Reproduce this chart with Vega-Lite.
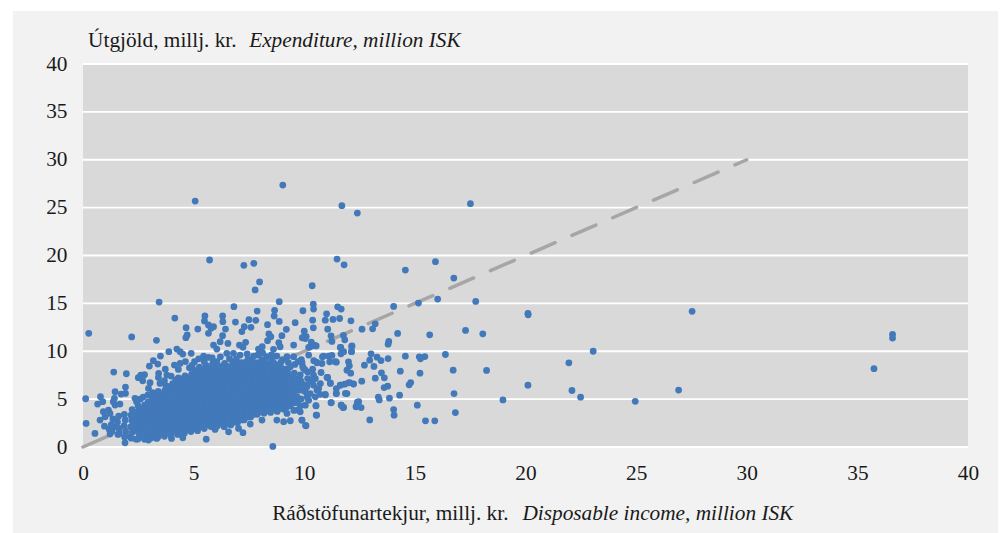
{"$schema":"https://vega.github.io/schema/vega-lite/v6.json","width":885,"height":383,"autosize":"none","padding":{"left":83,"top":64,"right":34,"bottom":86},"background":"white","view":{"stroke":null},
"config":{"axis":{"grid":false,"domain":false,"ticks":false,"labelFont":"Liberation Serif","labelFontSize":21.3,"labelColor":"#1a1a1a","labelFlush":false,"tickCount":8},"axisX":{"labelPadding":15,"labelAngle":0},"axisY":{"labelPadding":16}},
"data":{"values":[{"k":1}]},
"layer":[
{"mark":{"type":"rect","color":"#f2f2f2"},"encoding":{"x":{"datum":-3.167,"type":"quantitative","title":null,"scale":{"domain":[0,40],"nice":false}},"x2":{"datum":41.36},"y":{"datum":-8.98,"type":"quantitative","title":null,"scale":{"domain":[0,40],"nice":false}},"y2":{"datum":45.53}}},
{"mark":{"type":"rect","color":"#d9d9d9"},"encoding":{"x":{"datum":0,"type":"quantitative","title":null},"x2":{"datum":40},"y":{"datum":0,"type":"quantitative","title":null},"y2":{"datum":40}}},
{"data":{"values":[{"t":0},{"t":5},{"t":10},{"t":15},{"t":20},{"t":25},{"t":30},{"t":35},{"t":40}]},"mark":{"type":"rule","color":"#ffffff","strokeWidth":1.8},"encoding":{"x":{"datum":0,"type":"quantitative","title":null},"x2":{"datum":40},"y":{"field":"t","type":"quantitative","title":null,"axis":{"zindex":1}}}},
{"data":{"values":[{"x":0,"y":0},{"x":30,"y":30}]},"mark":{"type":"line","color":"#a6a6a6","strokeWidth":3.5,"strokeCap":"round","strokeDash":[26,18.4]},"encoding":{"x":{"field":"x","type":"quantitative","title":null,"axis":{"zindex":1}},"y":{"field":"y","type":"quantitative","title":null,"axis":{"zindex":1}}}},
{"data":{"values":[
{"x":11.7,"y":25.2},{"x":12.4,"y":24.43},{"x":17.51,"y":25.41},{"x":11.48,"y":19.63},{"x":11.8,"y":19.03},{"x":14.57,"y":18.48},{"x":15.93,"y":19.35},{"x":16.76,"y":17.64},{"x":10.36,"y":16.84},{"x":14.04,"y":14.68},{"x":15.16,"y":15.03},{"x":16.03,"y":15.45},{"x":17.75,"y":15.2},{"x":10.41,"y":14.92},{"x":10.42,"y":14.4},{"x":9.94,"y":14.23},{"x":11.51,"y":14.64},{"x":11.67,"y":14.4},{"x":11.01,"y":13.91},{"x":10.95,"y":13.25},{"x":11.3,"y":13.32},{"x":11.6,"y":13.42},{"x":10.38,"y":13.25},{"x":12.11,"y":13.18},{"x":10.41,"y":12.45},{"x":11.06,"y":12.31},{"x":13.21,"y":12.87},{"x":13.09,"y":12.34},{"x":12.61,"y":12.31},{"x":14.22,"y":11.86},{"x":15.67,"y":11.72},{"x":17.29,"y":12.17},{"x":18.07,"y":11.82},{"x":20.11,"y":13.95},{"x":20.12,"y":13.81},{"x":10.0,"y":12.1},{"x":11.21,"y":11.61},{"x":11.25,"y":11.02},{"x":11.77,"y":11.65},{"x":11.83,"y":11.19},{"x":13.82,"y":11.02},{"x":13.79,"y":10.74},{"x":11.65,"y":10.39},{"x":12.14,"y":10.5},{"x":12.13,"y":9.98},{"x":11.75,"y":9.94},{"x":11.66,"y":9.73},{"x":10.0,"y":11.5},{"x":10.05,"y":11.33},{"x":10.32,"y":10.95},{"x":10.47,"y":10.6},{"x":10.27,"y":10.46},{"x":10.2,"y":9.6},{"x":13.02,"y":9.73},{"x":13.29,"y":9.38},{"x":13.47,"y":9.03},{"x":13.79,"y":9.24},{"x":12.96,"y":9.07},{"x":12.72,"y":8.55},{"x":13.15,"y":8.41},{"x":14.57,"y":9.49},{"x":15.2,"y":9.42},{"x":15.25,"y":9.21},{"x":15.45,"y":9.45},{"x":16.38,"y":9.66},{"x":23.06,"y":10.0},{"x":21.96,"y":8.79},{"x":16.73,"y":8.02},{"x":18.24,"y":8.0},{"x":14.34,"y":7.92},{"x":15.23,"y":7.71},{"x":13.49,"y":7.75},{"x":13.62,"y":7.22},{"x":13.21,"y":7.19},{"x":14.81,"y":6.73},{"x":14.74,"y":6.49},{"x":13.77,"y":6.35},{"x":13.61,"y":6.21},{"x":12.6,"y":6.87},{"x":12.22,"y":6.6},{"x":12.05,"y":6.73},{"x":20.11,"y":6.46},{"x":16.77,"y":5.58},{"x":22.1,"y":5.9},{"x":22.49,"y":5.2},{"x":18.98,"y":4.92},{"x":14.31,"y":5.41},{"x":13.85,"y":5.1},{"x":13.35,"y":5.2},{"x":13.39,"y":4.92},{"x":15.11,"y":4.37},{"x":12.4,"y":4.68},{"x":12.35,"y":4.23},{"x":12.57,"y":4.12},{"x":11.67,"y":4.37},{"x":11.75,"y":4.12},{"x":11.22,"y":4.64},{"x":10.53,"y":4.3},{"x":10.56,"y":3.32},{"x":14.04,"y":3.91},{"x":14.06,"y":3.32},{"x":16.83,"y":3.6},{"x":12.96,"y":2.83},{"x":15.48,"y":2.73},{"x":15.9,"y":2.73},{"x":10.06,"y":2.24},{"x":9.9,"y":2.8},
{"x":10.82,"y":9.42},{"x":11.1,"y":9.5},{"x":11.25,"y":9.56},{"x":10.57,"y":8.79},{"x":10.8,"y":8.72},{"x":11.15,"y":8.9},{"x":11.45,"y":8.86},{"x":12.0,"y":8.9},{"x":12.04,"y":8.48},{"x":11.93,"y":8.02},{"x":12.1,"y":7.71},{"x":10.76,"y":7.78},{"x":10.38,"y":8.13},{"x":10.42,"y":7.5},{"x":9.97,"y":8.2},{"x":9.9,"y":8.8},{"x":11.06,"y":7.26},{"x":11.18,"y":6.7},{"x":10.15,"y":7.15},{"x":10.5,"y":7.15},{"x":11.63,"y":6.46},{"x":11.83,"y":6.56},{"x":11.45,"y":6.1},{"x":11.93,"y":5.58},{"x":11.45,"y":5.58},{"x":10.95,"y":5.44},{"x":10.65,"y":6.1},{"x":10.42,"y":6.46},{"x":10.12,"y":6.28},{"x":10.05,"y":5.76},{"x":10.27,"y":5.58},{"x":10.5,"y":5.24},{"x":10.05,"y":4.37},{"x":9.82,"y":3.67},{"x":10.2,"y":4.89},{"x":10.72,"y":5.5},{"x":9.9,"y":6.63},{"x":9.9,"y":5.93},
{"x":7.98,"y":17.24},{"x":7.78,"y":16.4},{"x":8.87,"y":15.18},{"x":3.44,"y":15.14},{"x":6.82,"y":14.66},{"x":7.87,"y":14.2},{"x":8.66,"y":14.27},{"x":5.51,"y":13.68},{"x":6.31,"y":13.68},{"x":4.15,"y":13.47},{"x":8.64,"y":13.68},{"x":5.49,"y":13.16},{"x":6.32,"y":13.09},{"x":7.5,"y":13.3},{"x":7.81,"y":13.23},{"x":8.87,"y":13.12},{"x":6.89,"y":13.05},{"x":9.59,"y":12.98},{"x":8.34,"y":12.78},{"x":5.9,"y":12.57},{"x":5.67,"y":12.74},{"x":5.79,"y":12.39},{"x":4.66,"y":12.46},{"x":5.19,"y":12.32},{"x":6.44,"y":12.32},{"x":7.29,"y":12.57},{"x":7.59,"y":12.5},{"x":7.18,"y":12.05},{"x":9.19,"y":12.29},{"x":5.67,"y":11.87},{"x":4.71,"y":11.7},{"x":4.65,"y":11.42},{"x":0.26,"y":11.87},{"x":2.2,"y":11.49},{"x":8.99,"y":11.63},{"x":8.4,"y":11.8},{"x":8.49,"y":11.52},{"x":6.31,"y":11.63},{"x":9.91,"y":11.41},{"x":10.09,"y":11.52},{"x":3.32,"y":11.14},{"x":8.34,"y":11.1},{"x":6.2,"y":11.0},{"x":6.55,"y":10.82},{"x":8.85,"y":10.9},{"x":5.9,"y":10.65},{"x":6.05,"y":10.23},{"x":7.07,"y":10.65},{"x":7.35,"y":10.93},{"x":7.23,"y":10.41},{"x":8.1,"y":10.47},{"x":7.93,"y":10.23},{"x":8.61,"y":10.2},{"x":8.91,"y":10.47},{"x":9.52,"y":10.65},{"x":10.42,"y":10.65},{"x":10.54,"y":10.55},{"x":10.2,"y":10.41},{"x":11.63,"y":10.4},{"x":12.16,"y":10.55},{"x":12.14,"y":9.95},{"x":11.78,"y":9.95},{"x":4.24,"y":10.23},{"x":3.88,"y":9.95},{"x":4.39,"y":9.95},{"x":4.51,"y":9.71},{"x":4.89,"y":9.78},{"x":3.5,"y":9.5},{"x":3.18,"y":9.01},{"x":3.38,"y":8.66},{"x":3.0,"y":8.45},{"x":5.45,"y":9.5},{"x":5.67,"y":9.36},{"x":6.05,"y":8.91},{"x":5.04,"y":8.91},{"x":6.4,"y":8.73},{"x":6.5,"y":9.78},{"x":6.8,"y":9.78},{"x":7.1,"y":9.6},{"x":7.71,"y":9.5},{"x":8.31,"y":9.43},{"x":8.76,"y":9.5},{"x":9.22,"y":9.43},{"x":9.52,"y":9.43},{"x":10.87,"y":9.5},{"x":10.57,"y":8.84},{"x":11.4,"y":8.91},{"x":4.13,"y":8.56},{"x":4.39,"y":8.73},{"x":4.31,"y":8.1},{"x":4.81,"y":8.28},{"x":9.93,"y":8.38},{"x":9.37,"y":8.38},{"x":10.05,"y":8.04},{"x":3.79,"y":7.51},{"x":3.98,"y":7.41},{"x":3.42,"y":7.69},{"x":3.41,"y":7.27},{"x":2.61,"y":7.51},{"x":2.5,"y":7.24},{"x":2.78,"y":7.55},{"x":2.7,"y":6.92},{"x":1.39,"y":7.83},{"x":1.96,"y":7.65},{"x":3.48,"y":6.64},{"x":3.03,"y":6.71},{"x":2.96,"y":6.12},{"x":3.15,"y":5.67},{"x":1.92,"y":6.26},{"x":1.45,"y":5.77},{"x":1.72,"y":5.53},{"x":1.92,"y":5.6},{"x":2.35,"y":5.08},{"x":2.58,"y":5.0},{"x":1.42,"y":5.08},{"x":0.79,"y":5.25},{"x":0.89,"y":4.73},{"x":0.66,"y":4.48},{"x":1.45,"y":4.38},{"x":1.67,"y":4.48},{"x":1.37,"y":4.73},{"x":0.12,"y":5.04},{"x":0.14,"y":2.46},{"x":0.54,"y":1.42},{"x":0.77,"y":2.81},{"x":0.92,"y":3.68},{"x":1.15,"y":3.86},{"x":1.22,"y":3.51},{"x":1.0,"y":3.16},{"x":0.97,"y":2.18},{"x":1.19,"y":1.84},{"x":1.22,"y":1.35},{"x":1.45,"y":2.11},{"x":1.64,"y":1.42},{"x":1.9,"y":0.44},{"x":2.13,"y":1.07},{"x":2.4,"y":0.82},{"x":2.96,"y":0.72},{"x":3.33,"y":0.9},{"x":4.0,"y":0.9},{"x":4.51,"y":0.96},{"x":5.57,"y":0.82},{"x":4.99,"y":1.94},{"x":5.97,"y":1.83},{"x":6.58,"y":1.59},{"x":7.03,"y":1.94},{"x":7.23,"y":1.49},{"x":7.56,"y":2.39},{"x":8.09,"y":2.81},{"x":8.58,"y":0.06},{"x":8.76,"y":2.81},{"x":9.07,"y":2.64},{"x":9.37,"y":2.74},{"x":9.89,"y":2.81},{"x":10.08,"y":2.22},{"x":10.54,"y":3.33},{"x":10.53,"y":4.31},{"x":9.7,"y":3.86},{"x":9.22,"y":3.51},{"x":11.21,"y":4.62},{"x":11.67,"y":4.38},{"x":11.78,"y":4.13},{"x":12.34,"y":4.2},{"x":12.46,"y":4.73},{"x":11.86,"y":5.6},{"x":11.45,"y":5.6},{"x":10.95,"y":5.49},{"x":11.18,"y":6.64},{"x":11.03,"y":7.27},{"x":11.63,"y":6.47},{"x":12.23,"y":6.57},{"x":12.0,"y":6.7},{"x":10.57,"y":5.95},{"x":10.12,"y":6.47},{"x":9.67,"y":5.25},
{"x":5.07,"y":25.69},{"x":9.03,"y":27.36},{"x":5.72,"y":19.53},{"x":7.27,"y":18.97},{"x":7.72,"y":19.18},{"x":27.53,"y":14.17},{"x":36.59,"y":11.77},{"x":36.59,"y":11.38},{"x":35.75,"y":8.18},{"x":26.92,"y":5.95},{"x":24.96,"y":4.77},
{"x":1.31,"y":1.62},{"x":1.28,"y":2.34},{"x":1.35,"y":2.93},{"x":1.58,"y":1.31},{"x":1.63,"y":1.94},{"x":1.56,"y":2.62},{"x":1.61,"y":3.22},{"x":1.88,"y":1.04},{"x":1.93,"y":1.63},{"x":1.86,"y":2.24},{"x":1.91,"y":2.83},{"x":1.87,"y":3.41},{"x":2.18,"y":0.92},{"x":2.23,"y":1.53},{"x":2.16,"y":2.11},{"x":2.21,"y":2.74},{"x":2.17,"y":3.32},{"x":2.22,"y":3.91},{"x":2.48,"y":0.83},{"x":2.53,"y":1.41},{"x":2.46,"y":2.02},{"x":2.51,"y":2.63},{"x":2.47,"y":3.24},{"x":2.52,"y":3.82},{"x":2.49,"y":4.31},{"x":2.78,"y":0.81},{"x":2.83,"y":1.33},{"x":2.76,"y":1.92},{"x":2.81,"y":2.54},{"x":2.77,"y":3.13},{"x":2.82,"y":3.72},{"x":2.79,"y":4.41},{"x":3.08,"y":0.93},{"x":3.13,"y":1.52},{"x":3.06,"y":2.13},{"x":3.11,"y":2.72},{"x":3.07,"y":3.33},{"x":3.12,"y":3.94},{"x":3.09,"y":4.52},{"x":3.14,"y":5.03},{"x":3.38,"y":1.03},{"x":3.43,"y":1.62},{"x":3.36,"y":2.21},{"x":3.41,"y":2.83},{"x":3.37,"y":3.42},{"x":3.42,"y":4.01},{"x":3.39,"y":4.63},{"x":3.44,"y":5.22},{"x":3.4,"y":5.81},{"x":3.68,"y":1.12},{"x":3.73,"y":1.71},{"x":3.66,"y":2.33},{"x":3.71,"y":2.92},{"x":3.67,"y":3.51},{"x":3.72,"y":4.12},{"x":3.69,"y":4.73},{"x":3.74,"y":5.31},{"x":3.7,"y":5.92},{"x":3.75,"y":6.42},{"x":3.98,"y":1.23},{"x":4.03,"y":1.83},{"x":3.96,"y":2.42},{"x":4.01,"y":3.02},{"x":3.97,"y":3.61},{"x":4.02,"y":4.21},{"x":3.99,"y":4.82},{"x":4.04,"y":5.41},{"x":4.0,"y":6.02},{"x":4.05,"y":6.63},{"x":4.28,"y":1.31},{"x":4.33,"y":1.91},{"x":4.26,"y":2.52},{"x":4.31,"y":3.12},{"x":4.27,"y":3.73},{"x":4.32,"y":4.33},{"x":4.29,"y":4.92},{"x":4.34,"y":5.53},{"x":4.3,"y":6.11},{"x":4.35,"y":6.72},{"x":4.31,"y":7.21},{"x":4.58,"y":1.44},{"x":4.63,"y":2.03},{"x":4.56,"y":2.62},{"x":4.61,"y":3.23},{"x":4.57,"y":3.82},{"x":4.62,"y":4.43},{"x":4.59,"y":5.02},{"x":4.64,"y":5.63},{"x":4.6,"y":6.22},{"x":4.65,"y":6.83},{"x":4.61,"y":7.42},{"x":4.88,"y":1.62},{"x":4.93,"y":2.21},{"x":4.86,"y":2.83},{"x":4.91,"y":3.42},{"x":4.87,"y":4.01},{"x":4.92,"y":4.62},{"x":4.89,"y":5.21},{"x":4.94,"y":5.82},{"x":4.9,"y":6.41},{"x":4.95,"y":7.03},{"x":4.91,"y":7.62},{"x":5.18,"y":1.71},{"x":5.23,"y":2.32},{"x":5.16,"y":2.91},{"x":5.21,"y":3.53},{"x":5.17,"y":4.12},{"x":5.22,"y":4.73},{"x":5.19,"y":5.31},{"x":5.24,"y":5.92},{"x":5.2,"y":6.52},{"x":5.25,"y":7.13},{"x":5.21,"y":7.72},{"x":5.26,"y":8.33},{"x":5.48,"y":1.92},{"x":5.53,"y":2.51},{"x":5.46,"y":3.12},{"x":5.51,"y":3.72},{"x":5.47,"y":4.31},{"x":5.52,"y":4.92},{"x":5.49,"y":5.52},{"x":5.54,"y":6.11},{"x":5.5,"y":6.73},{"x":5.55,"y":7.32},{"x":5.51,"y":7.91},{"x":5.56,"y":8.52},{"x":5.78,"y":2.13},{"x":5.83,"y":2.72},{"x":5.76,"y":3.31},{"x":5.81,"y":3.92},{"x":5.77,"y":4.53},{"x":5.82,"y":5.12},{"x":5.79,"y":5.71},{"x":5.84,"y":6.32},{"x":5.8,"y":6.91},{"x":5.85,"y":7.52},{"x":5.81,"y":8.13},{"x":5.86,"y":8.71},{"x":6.08,"y":2.22},{"x":6.13,"y":2.83},{"x":6.06,"y":3.42},{"x":6.11,"y":4.03},{"x":6.07,"y":4.62},{"x":6.12,"y":5.21},{"x":6.09,"y":5.83},{"x":6.14,"y":6.42},{"x":6.1,"y":7.01},{"x":6.15,"y":7.62},{"x":6.11,"y":8.21},{"x":6.38,"y":2.12},{"x":6.43,"y":2.71},{"x":6.36,"y":3.33},{"x":6.41,"y":3.92},{"x":6.37,"y":4.51},{"x":6.42,"y":5.12},{"x":6.39,"y":5.73},{"x":6.44,"y":6.31},{"x":6.4,"y":6.92},{"x":6.45,"y":7.53},{"x":6.41,"y":8.12},{"x":6.68,"y":2.31},{"x":6.73,"y":2.92},{"x":6.66,"y":3.52},{"x":6.71,"y":4.13},{"x":6.67,"y":4.72},{"x":6.72,"y":5.31},{"x":6.69,"y":5.93},{"x":6.74,"y":6.52},{"x":6.7,"y":7.11},{"x":6.75,"y":7.72},{"x":6.71,"y":8.31},{"x":6.76,"y":8.92},{"x":6.98,"y":2.52},{"x":7.03,"y":3.11},{"x":6.96,"y":3.72},{"x":7.01,"y":4.31},{"x":6.97,"y":4.92},{"x":7.02,"y":5.53},{"x":6.99,"y":6.12},{"x":7.04,"y":6.71},{"x":7.0,"y":7.32},{"x":7.05,"y":7.91},{"x":7.01,"y":8.52},{"x":7.28,"y":2.83},{"x":7.33,"y":3.42},{"x":7.26,"y":4.01},{"x":7.31,"y":4.62},{"x":7.27,"y":5.21},{"x":7.32,"y":5.82},{"x":7.29,"y":6.41},{"x":7.34,"y":7.02},{"x":7.3,"y":7.61},{"x":7.35,"y":8.22},{"x":7.31,"y":8.81},{"x":7.58,"y":3.13},{"x":7.63,"y":3.72},{"x":7.56,"y":4.33},{"x":7.61,"y":4.91},{"x":7.57,"y":5.52},{"x":7.62,"y":6.13},{"x":7.59,"y":6.72},{"x":7.64,"y":7.31},{"x":7.6,"y":7.92},{"x":7.65,"y":8.53},{"x":7.61,"y":9.12},{"x":7.88,"y":3.42},{"x":7.93,"y":4.03},{"x":7.86,"y":4.62},{"x":7.91,"y":5.21},{"x":7.87,"y":5.83},{"x":7.92,"y":6.42},{"x":7.89,"y":7.01},{"x":7.94,"y":7.62},{"x":7.9,"y":8.21},{"x":7.95,"y":8.82},{"x":8.18,"y":3.53},{"x":8.23,"y":4.12},{"x":8.16,"y":4.71},{"x":8.21,"y":5.32},{"x":8.17,"y":5.91},{"x":8.22,"y":6.52},{"x":8.19,"y":7.13},{"x":8.24,"y":7.72},{"x":8.2,"y":8.31},{"x":8.25,"y":8.92},{"x":8.48,"y":3.61},{"x":8.53,"y":4.22},{"x":8.46,"y":4.83},{"x":8.51,"y":5.42},{"x":8.47,"y":6.01},{"x":8.52,"y":6.62},{"x":8.49,"y":7.21},{"x":8.54,"y":7.82},{"x":8.5,"y":8.41},{"x":8.55,"y":9.02},{"x":8.78,"y":3.72},{"x":8.83,"y":4.31},{"x":8.76,"y":4.92},{"x":8.81,"y":5.53},{"x":8.77,"y":6.12},{"x":8.82,"y":6.71},{"x":8.79,"y":7.32},{"x":8.84,"y":7.91},{"x":8.8,"y":8.52},{"x":9.08,"y":3.93},{"x":9.13,"y":4.52},{"x":9.06,"y":5.11},{"x":9.11,"y":5.72},{"x":9.07,"y":6.31},{"x":9.12,"y":6.92},{"x":9.09,"y":7.51},{"x":9.14,"y":8.12},{"x":9.38,"y":4.31},{"x":9.43,"y":4.92},{"x":9.36,"y":5.51},{"x":9.41,"y":6.12},{"x":9.37,"y":6.71},{"x":9.42,"y":7.32},{"x":9.68,"y":4.62},{"x":9.73,"y":5.93},{"x":9.66,"y":6.52},{"x":9.71,"y":7.11},
{"x":2.33,"y":1.73},{"x":2.35,"y":2.41},{"x":2.31,"y":3.02},{"x":2.36,"y":3.61},{"x":2.63,"y":1.12},{"x":2.66,"y":1.72},{"x":2.61,"y":2.33},{"x":2.64,"y":2.91},{"x":2.62,"y":3.52},{"x":2.67,"y":4.03},{"x":2.93,"y":1.11},{"x":2.96,"y":1.62},{"x":2.91,"y":2.23},{"x":2.94,"y":2.82},{"x":2.92,"y":3.43},{"x":2.97,"y":4.02},{"x":2.95,"y":4.71},{"x":3.23,"y":1.21},{"x":3.26,"y":1.83},{"x":3.21,"y":2.42},{"x":3.24,"y":3.03},{"x":3.22,"y":3.62},{"x":3.27,"y":4.23},{"x":3.25,"y":4.81},{"x":3.28,"y":5.42},{"x":3.53,"y":1.32},{"x":3.56,"y":1.93},{"x":3.51,"y":2.52},{"x":3.54,"y":3.13},{"x":3.52,"y":3.72},{"x":3.57,"y":4.33},{"x":3.55,"y":4.92},{"x":3.58,"y":5.53},{"x":3.83,"y":1.51},{"x":3.86,"y":2.12},{"x":3.81,"y":2.71},{"x":3.84,"y":3.32},{"x":3.82,"y":3.91},{"x":3.87,"y":4.52},{"x":3.85,"y":5.11},{"x":3.88,"y":5.72},{"x":3.84,"y":6.31},{"x":4.13,"y":1.62},{"x":4.16,"y":2.22},{"x":4.11,"y":2.83},{"x":4.14,"y":3.42},{"x":4.12,"y":4.03},{"x":4.17,"y":4.62},{"x":4.15,"y":5.21},{"x":4.18,"y":5.82},{"x":4.14,"y":6.43},{"x":4.19,"y":7.02},{"x":4.43,"y":1.73},{"x":4.46,"y":2.32},{"x":4.41,"y":2.93},{"x":4.44,"y":3.52},{"x":4.42,"y":4.13},{"x":4.47,"y":4.72},{"x":4.45,"y":5.31},{"x":4.48,"y":5.92},{"x":4.44,"y":6.53},{"x":4.49,"y":7.12},{"x":4.73,"y":1.81},{"x":4.76,"y":2.42},{"x":4.71,"y":3.03},{"x":4.74,"y":3.62},{"x":4.72,"y":4.21},{"x":4.77,"y":4.82},{"x":4.75,"y":5.43},{"x":4.78,"y":6.02},{"x":4.74,"y":6.61},{"x":4.79,"y":7.22},{"x":5.03,"y":2.03},{"x":5.06,"y":2.62},{"x":5.01,"y":3.21},{"x":5.04,"y":3.82},{"x":5.02,"y":4.43},{"x":5.07,"y":5.02},{"x":5.05,"y":5.61},{"x":5.08,"y":6.22},{"x":5.04,"y":6.83},{"x":5.09,"y":7.42},{"x":5.05,"y":8.01},{"x":5.33,"y":2.12},{"x":5.36,"y":2.73},{"x":5.31,"y":3.32},{"x":5.34,"y":3.91},{"x":5.32,"y":4.52},{"x":5.37,"y":5.13},{"x":5.35,"y":5.72},{"x":5.38,"y":6.31},{"x":5.34,"y":6.92},{"x":5.39,"y":7.53},{"x":5.35,"y":8.12},{"x":5.63,"y":2.33},{"x":5.66,"y":2.92},{"x":5.61,"y":3.51},{"x":5.64,"y":4.12},{"x":5.62,"y":4.73},{"x":5.67,"y":5.32},{"x":5.65,"y":5.91},{"x":5.68,"y":6.52},{"x":5.64,"y":7.13},{"x":5.69,"y":7.72},{"x":5.65,"y":8.31},{"x":5.93,"y":2.52},{"x":5.96,"y":3.13},{"x":5.91,"y":3.72},{"x":5.94,"y":4.31},{"x":5.92,"y":4.92},{"x":5.97,"y":5.53},{"x":5.95,"y":6.12},{"x":5.98,"y":6.71},{"x":5.94,"y":7.32},{"x":5.99,"y":7.91},{"x":5.95,"y":8.43},{"x":6.23,"y":2.51},{"x":6.26,"y":3.12},{"x":6.21,"y":3.73},{"x":6.24,"y":4.32},{"x":6.22,"y":4.91},{"x":6.27,"y":5.52},{"x":6.25,"y":6.13},{"x":6.28,"y":6.72},{"x":6.24,"y":7.31},{"x":6.29,"y":7.92},{"x":6.25,"y":8.42},{"x":6.53,"y":2.42},{"x":6.56,"y":3.03},{"x":6.51,"y":3.62},{"x":6.54,"y":4.21},{"x":6.52,"y":4.82},{"x":6.57,"y":5.43},{"x":6.55,"y":6.02},{"x":6.58,"y":6.61},{"x":6.54,"y":7.22},{"x":6.59,"y":7.83},{"x":6.55,"y":8.41},{"x":6.83,"y":2.61},{"x":6.86,"y":3.22},{"x":6.81,"y":3.83},{"x":6.84,"y":4.42},{"x":6.82,"y":5.01},{"x":6.87,"y":5.62},{"x":6.85,"y":6.23},{"x":6.88,"y":6.82},{"x":6.84,"y":7.41},{"x":6.89,"y":8.02},{"x":6.85,"y":8.63},{"x":7.13,"y":2.83},{"x":7.16,"y":3.42},{"x":7.11,"y":4.01},{"x":7.14,"y":4.62},{"x":7.12,"y":5.23},{"x":7.17,"y":5.82},{"x":7.15,"y":6.41},{"x":7.18,"y":7.02},{"x":7.14,"y":7.63},{"x":7.19,"y":8.22},{"x":7.15,"y":8.81},{"x":7.43,"y":3.12},{"x":7.46,"y":3.73},{"x":7.41,"y":4.32},{"x":7.44,"y":4.91},{"x":7.42,"y":5.52},{"x":7.47,"y":6.13},{"x":7.45,"y":6.72},{"x":7.48,"y":7.31},{"x":7.44,"y":7.92},{"x":7.49,"y":8.53},{"x":7.45,"y":9.12},{"x":7.73,"y":3.42},{"x":7.76,"y":4.01},{"x":7.71,"y":4.62},{"x":7.74,"y":5.23},{"x":7.72,"y":5.82},{"x":7.77,"y":6.41},{"x":7.75,"y":7.02},{"x":7.78,"y":7.63},{"x":7.74,"y":8.22},{"x":7.79,"y":8.81},{"x":8.03,"y":3.73},{"x":8.06,"y":4.32},{"x":8.01,"y":4.91},{"x":8.04,"y":5.52},{"x":8.02,"y":6.13},{"x":8.07,"y":6.72},{"x":8.05,"y":7.31},{"x":8.08,"y":7.92},{"x":8.04,"y":8.53},{"x":8.09,"y":9.12},{"x":8.33,"y":3.81},{"x":8.36,"y":4.42},{"x":8.31,"y":5.03},{"x":8.34,"y":5.62},{"x":8.32,"y":6.21},{"x":8.37,"y":6.82},{"x":8.35,"y":7.43},{"x":8.38,"y":8.02},{"x":8.34,"y":8.61},{"x":8.63,"y":3.92},{"x":8.66,"y":4.53},{"x":8.61,"y":5.12},{"x":8.64,"y":5.71},{"x":8.62,"y":6.32},{"x":8.67,"y":6.93},{"x":8.65,"y":7.52},{"x":8.68,"y":8.11},{"x":8.64,"y":8.72},{"x":8.93,"y":4.03},{"x":8.96,"y":4.62},{"x":8.91,"y":5.21},{"x":8.94,"y":5.82},{"x":8.92,"y":6.43},{"x":8.97,"y":7.02},{"x":8.95,"y":7.61},{"x":8.98,"y":8.22},{"x":8.94,"y":8.83},{"x":9.23,"y":4.21},{"x":9.26,"y":4.82},{"x":9.21,"y":5.43},{"x":9.24,"y":6.02},{"x":9.22,"y":6.61},{"x":9.27,"y":7.22},{"x":9.25,"y":7.83},{"x":9.28,"y":8.82},{"x":9.53,"y":3.82},{"x":9.56,"y":4.62},{"x":9.51,"y":5.23},{"x":9.54,"y":5.81},{"x":9.52,"y":6.42},{"x":9.57,"y":7.03},{"x":9.55,"y":7.72},{"x":9.58,"y":8.62},{"x":9.83,"y":4.31},{"x":9.86,"y":5.02},{"x":9.81,"y":6.21},{"x":9.84,"y":6.92},{"x":9.82,"y":7.53},{"x":9.87,"y":9.12},{"x":10.13,"y":5.21},{"x":10.16,"y":7.82},{"x":10.33,"y":6.92},{"x":10.73,"y":6.62},{"x":10.43,"y":9.02},{"x":4.63,"y":8.92},{"x":4.93,"y":8.52},{"x":5.23,"y":9.21},{"x":5.48,"y":8.91},{"x":5.84,"y":9.31},{"x":6.21,"y":9.42},{"x":6.62,"y":9.21},{"x":6.93,"y":9.21},{"x":7.42,"y":9.72},{"x":7.91,"y":9.61},{"x":8.12,"y":9.82},{"x":8.52,"y":9.62},{"x":9.02,"y":9.12},{"x":9.72,"y":8.92},{"x":3.68,"y":6.93},{"x":3.72,"y":8.12},{"x":2.42,"y":4.72},{"x":2.72,"y":5.22},{"x":2.93,"y":5.42}
]},"mark":{"type":"circle","color":"#4279ba","opacity":1,"size":46},"encoding":{"x":{"field":"x","type":"quantitative","title":null,"axis":{"zindex":1}},"y":{"field":"y","type":"quantitative","title":null,"axis":{"zindex":1}}}},
{"mark":{"type":"text","font":"Liberation Serif","fontSize":21.3,"color":"#1a1a1a","align":"left","baseline":"alphabetic"},"encoding":{"x":{"datum":0.23,"type":"quantitative","title":null},"y":{"datum":41.75,"type":"quantitative","title":null},"text":{"value":"Útgjöld, millj. kr."}}},
{"mark":{"type":"text","font":"Liberation Serif","fontStyle":"italic","fontSize":21.3,"color":"#1a1a1a","align":"left","baseline":"alphabetic"},"encoding":{"x":{"datum":7.51,"type":"quantitative","title":null},"y":{"datum":41.75,"type":"quantitative","title":null},"text":{"value":"Expenditure, million ISK"}}},
{"mark":{"type":"text","font":"Liberation Serif","fontSize":21.3,"color":"#1a1a1a","align":"left","baseline":"alphabetic"},"encoding":{"x":{"datum":8.55,"type":"quantitative","title":null},"y":{"datum":-7.6,"type":"quantitative","title":null},"text":{"value":"Ráðstöfunartekjur, millj. kr."}}},
{"mark":{"type":"text","font":"Liberation Serif","fontStyle":"italic","fontSize":21.3,"color":"#1a1a1a","align":"left","baseline":"alphabetic"},"encoding":{"x":{"datum":19.86,"type":"quantitative","title":null},"y":{"datum":-7.6,"type":"quantitative","title":null},"text":{"value":"Disposable income, million ISK"}}}
]}
